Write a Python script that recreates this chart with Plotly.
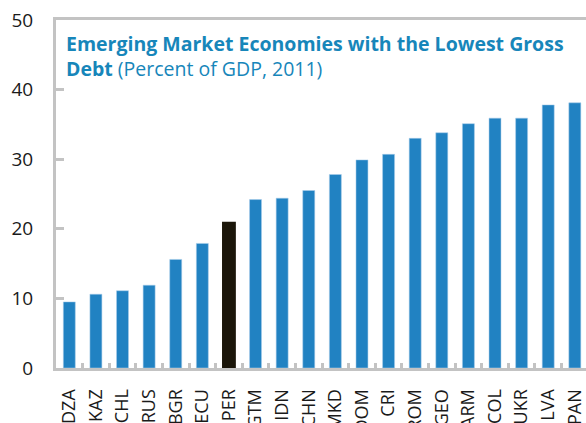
import plotly.graph_objects as go

# Gross government debt, percent of GDP, 2011
countries = ["DZA", "KAZ", "CHL", "RUS", "BGR", "ECU", "PER", "GTM", "IDN", "CHN",
             "MKD", "DOM", "CRI", "ROM", "GEO", "ARM", "COL", "UKR", "LVA", "PAN"]
debt = [9.5, 10.6, 11.1, 11.9, 15.6, 17.9, 21.0, 24.2, 24.4, 25.5,
        27.8, 29.9, 30.7, 33.0, 33.8, 35.1, 35.9, 35.9, 37.8, 38.1]
highlight = "PER"

y_ticks = [0, 10, 20, 30, 40, 50]

BLUE = "#2182C2"
DARK = "#1B160A"
GRAY = "#C3C3C3"
TITLE_BLUE = "#1786BA"

colors = [DARK if c == highlight else BLUE for c in countries]
widths = [0.52 if c == highlight else 0.45 for c in countries]
outline = ["rgba(0,0,0,0)" if c == highlight else "rgba(170,205,235,0.9)" for c in countries]

fig = go.Figure(
    go.Bar(
        x=countries,
        y=debt,
        width=widths,
        marker=dict(color=colors, line=dict(color=outline, width=0.6)),
        hoverinfo="x+y",
    )
)

fig.update_layout(
    width=586,
    height=423,
    margin=dict(l=56, r=0, t=20, b=55),
    plot_bgcolor="white",
    paper_bgcolor="white",
    showlegend=False,
    font=dict(family="Open Sans", color="#1a1a1a"),
    annotations=[
        dict(
            text="<b>Emerging Market Economies with the Lowest Gross<br>Debt</b> (Percent of GDP, 2011)",
            xref="paper", yref="paper",
            x=0.016, y=0.978,
            xanchor="left", yanchor="top",
            align="left",
            showarrow=False,
            font=dict(family="Open Sans", size=19.5, color=TITLE_BLUE),
        )
    ],
)

fig.update_xaxes(
    type="category",
    range=[-0.5, 19.42],
    showline=True,
    linecolor=GRAY,
    linewidth=3,
    mirror=True,
    ticks="inside",
    tickson="boundaries",
    ticklen=5,
    tickwidth=3,
    tickcolor=GRAY,
    tickangle=-90,
    tickfont=dict(size=18, color="#1a1a1a"),
    ticklabelstandoff=11,
    automargin=False,
    showgrid=False,
    zeroline=False,
    fixedrange=True,
)

fig.update_yaxes(
    range=[0, 50],
    tickvals=y_ticks,
    showline=True,
    linecolor=GRAY,
    linewidth=3,
    ticks="inside",
    ticklen=8,
    tickwidth=3,
    tickcolor=GRAY,
    tickfont=dict(size=19, color="#1a1a1a"),
    ticklabelstandoff=16,
    automargin=False,
    showgrid=False,
    zeroline=False,
    fixedrange=True,
)

fig.write_html("out.html")
